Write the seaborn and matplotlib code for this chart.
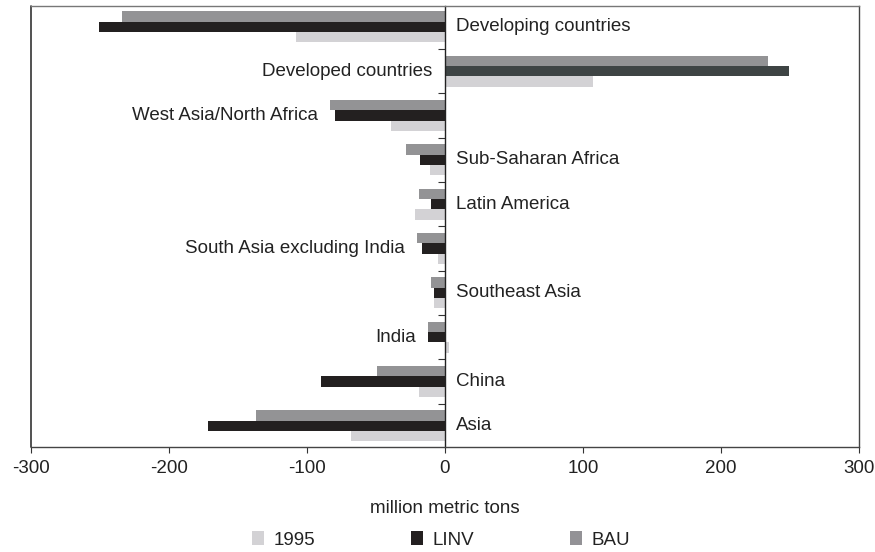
import matplotlib
matplotlib.use("Agg")
import matplotlib.pyplot as plt
from matplotlib.patches import Patch
from matplotlib.lines import Line2D
import seaborn as sns
import pandas as pd

sns.set_theme(style="white")
plt.rcParams["font.family"] = ["Liberation Sans", "DejaVu Sans"]

# Net trade by region, million metric tons (negative = net imports)
regions = [
    "Developing countries",
    "Developed countries",
    "West Asia/North Africa",
    "Sub-Saharan Africa",
    "Latin America",
    "South Asia excluding India",
    "Southeast Asia",
    "India",
    "China",
    "Asia",
]
values_1995 = [-108, 107, -39, -11, -22, -5, -8, 3, -19, -68]
values_linv = [-251, 249, -80, -18, -10, -17, -8, -12, -90, -172]
values_bau = [-234, 234, -83, -28, -19, -20, -10, -12, -49, -137]

series_names = ["1995", "LINV", "BAU"]
label_side = ["right", "left", "left", "right", "right", "left", "right", "left", "right", "right"]
x_ticks = [-300, -200, -100, 0, 100, 200, 300]

colors = {"1995": "#d3d2d5", "LINV": "#231f20", "BAU": "#939296"}
text_color = "#222222"

df = pd.DataFrame({
    "region": regions * 3,
    "series": ["1995"] * len(regions) + ["LINV"] * len(regions) + ["BAU"] * len(regions),
    "value": values_1995 + values_linv + values_bau,
})

fig = plt.figure(figsize=(8.75, 5.52), dpi=100)
ax = fig.add_axes([31 / 875, 1 - 447 / 552, 828 / 875, 441 / 552])

sns.barplot(
    data=df, y="region", x="value", hue="series",
    order=regions, hue_order=["BAU", "LINV", "1995"],
    palette=colors, orient="h", width=0.7, dodge=True,
    legend=False, linewidth=0, ax=ax, errorbar=None,
)

# the developed-countries LINV bar is printed in a dark slate tone
for patch in ax.patches:
    y_mid = patch.get_y() + patch.get_height() / 2
    if abs(y_mid - 1) < 0.05 and patch.get_width() > 0:
        patch.set_facecolor("#3e4444")

ax.set_xlim(-300, 300)
ax.set_ylim(9.48, -0.47)
ax.set_xticks(x_ticks)
ax.set_xticklabels([str(t) for t in x_ticks], fontsize=13.5, color=text_color)
ax.tick_params(axis="x", direction="out", length=4, width=0.8, color="#333333", pad=5.5, bottom=True)

# zero line carries the group separator ticks
ax.spines["left"].set_position(("data", 0))
ax.spines["left"].set_color("#222222")
ax.spines["left"].set_linewidth(1.0)
ax.set_yticks([i + 0.5 for i in range(len(regions) - 1)])
ax.set_yticklabels([])
ax.tick_params(axis="y", direction="out", length=5, width=0.8, color="#333333", left=True)
ax.set_ylabel("")

for side in ["top", "right", "bottom"]:
    ax.spines[side].set_visible(True)
    ax.spines[side].set_linewidth(1.0)
ax.spines["top"].set_color("#777777")
ax.spines["right"].set_color("#444444")
ax.spines["bottom"].set_color("#444444")
ax.add_line(Line2D([0, 0], [0, 1], transform=ax.transAxes, color="#333333", lw=1.2, clip_on=False))

ax.set_xlabel("million metric tons", fontsize=13.5, color=text_color, labelpad=16.5)

for i, (name, side) in enumerate(zip(regions, label_side)):
    if side == "right":
        ax.annotate(name, xy=(0, i), xytext=(8, 0), textcoords="offset points",
                    ha="left", va="center", fontsize=13.5, color=text_color)
    else:
        lo = min(0, values_1995[i], values_linv[i], values_bau[i])
        ax.annotate(name, xy=(lo, i), xytext=(-9, 0), textcoords="offset points",
                    ha="right", va="center", fontsize=13.5, color=text_color)

handles = [Patch(facecolor=colors[s], edgecolor="none") for s in series_names]
fig.legend(handles, series_names, loc="center", bbox_to_anchor=(441 / 875, 1 - 540 / 552),
           ncol=3, frameon=False, fontsize=13.5, handlelength=0.65, handleheight=0.7,
           handletextpad=0.5, columnspacing=5.1, labelcolor=text_color)

fig.savefig("out.png", dpi=100)
